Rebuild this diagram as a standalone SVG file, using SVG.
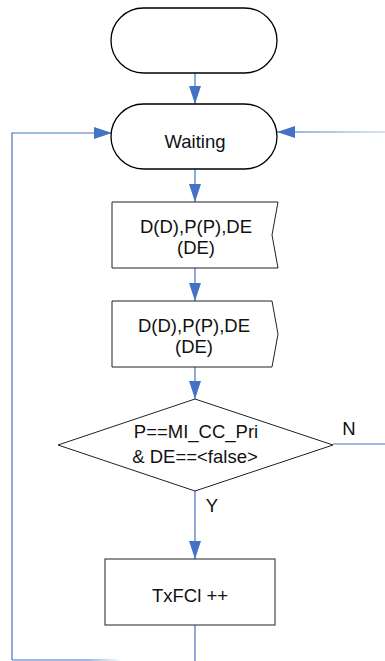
<svg xmlns="http://www.w3.org/2000/svg" width="385" height="661" viewBox="0 0 385 661">
<style>
.shape{fill:#fff;stroke:#000;stroke-width:1.3}
.box{fill:#fff;stroke:#222;stroke-width:1}
.t{font-family:"Liberation Sans",Arial,sans-serif;font-size:18.5px;fill:#111;text-anchor:middle}
.c{fill:none;stroke:#4472C4;stroke-width:1.2}
</style>
<defs>
<marker id="ah" markerUnits="userSpaceOnUse" markerWidth="18" markerHeight="12" refX="18" refY="6" orient="auto">
<path d="M0,0 L18,6 L0,12 Z" fill="#4472C4"/>
</marker>
<linearGradient id="fadeB" gradientUnits="userSpaceOnUse" x1="12" y1="0" x2="122" y2="0">
<stop offset="0.7" stop-color="#4472C4"/>
<stop offset="1" stop-color="#ffffff"/>
</linearGradient>
<linearGradient id="fadeR" gradientUnits="userSpaceOnUse" x1="300" y1="0" x2="385" y2="0">
<stop offset="0" stop-color="#4472C4"/>
<stop offset="1" stop-color="#b4c7ea"/>
</linearGradient>
</defs>
<g id="connectors">
<line class="c" x1="195" y1="73" x2="195" y2="104" marker-end="url(#ah)"/>
<line class="c" x1="195" y1="169" x2="195" y2="202" marker-end="url(#ah)"/>
<line class="c" x1="195" y1="268" x2="195" y2="301" marker-end="url(#ah)"/>
<line class="c" x1="195" y1="367" x2="195" y2="399" marker-end="url(#ah)"/>
<line class="c" x1="195" y1="491" x2="195" y2="559" marker-end="url(#ah)"/>
<line class="c" x1="195" y1="625" x2="195" y2="661"/>
<line class="c" x1="333" y1="444" x2="385" y2="444"/>
<path class="c" d="M12,660 L12,133 L112,133" marker-end="url(#ah)"/>
<line x1="12" y1="660" x2="122" y2="660" stroke="url(#fadeB)" stroke-width="1.2"/>
<line x1="385" y1="132" x2="277" y2="132" stroke="url(#fadeR)" stroke-width="1.2" marker-end="url(#ah)"/>
<text class="t" x="349" y="435">N</text>
<text class="t" x="212" y="512">Y</text>
</g>
<g id="start">
<rect class="shape" x="111" y="8" width="166" height="65" rx="32.5" ry="32.5"/>
</g>
<g id="waiting">
<rect class="shape" x="111" y="104" width="166" height="65" rx="32.5" ry="32.5"/>
<text class="t" x="195" y="148">Waiting</text>
</g>
<g id="receive">
<polygon class="box" points="112,202 278,202 272,235 278,268 112,268"/>
<text class="t" x="196" y="233">D(D),P(P),DE</text>
<text class="t" x="196" y="254">(DE)</text>
</g>
<g id="send">
<polygon class="box" points="112,301 272,301 278,334 272,367 112,367"/>
<text class="t" x="194" y="332">D(D),P(P),DE</text>
<text class="t" x="194" y="353">(DE)</text>
</g>
<g id="decision">
<polygon class="box" points="195,399 333,445 195,491 58,445"/>
<text class="t" x="196" y="438">P==MI_CC_Pri</text>
<text class="t" x="195" y="463">&amp; DE==&lt;false&gt;</text>
</g>
<g id="txfcl">
<rect class="box" x="105" y="559" width="170" height="66"/>
<text class="t" x="190" y="602">TxFCl ++</text>
</g>
</svg>
